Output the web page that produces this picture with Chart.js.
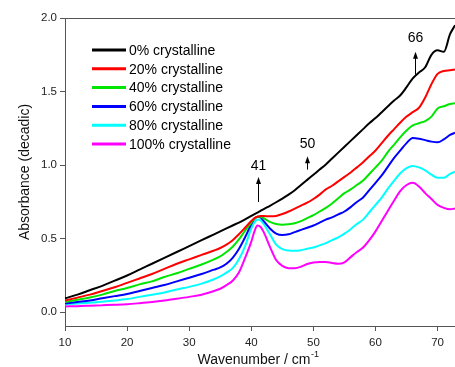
<!DOCTYPE html>
<html lang="en">
<head>
    <meta charset="UTF-8">
    <title>Absorbance vs Wavenumber</title>
    <script src="https://cdn.jsdelivr.net/npm/chart.js"></script>
    <style>
        body { margin: 0; background: #fff; }
        canvas { display: block; }
    </style>
</head>
<body>
    <canvas id="spectra" width="455" height="367"></canvas>
    <script>
        // wavenumber grid (cm-1)
        const wavenumber = [10,12,14,16,18,20,22,24,26,28,30,32,34,35,36,37,38,39,40,40.5,41,41.5,
            42,43,44,45,46,47,48,49,50,51,52,53,54,55,56,57,58,59,60,61,62,63,64,65,66,67,68,69,70,71,72,72.8];

        const labels = ['0% crystalline', '20% crystalline', '40% crystalline', '60% crystalline', '80% crystalline', '100% crystalline'];
        const colors = ['#000000', '#ff0000', '#00e600', '#0000ff', '#00ffff', '#ff00ff'];

        const abs0 = [0.095,0.12,0.15,0.18,0.215,0.25,0.29,0.33,0.37,0.41,0.45,0.49,0.53,
            0.55,0.57,0.59,0.61,0.632,0.655, 0.667,0.678,0.69,
            0.702,0.724,0.748,0.773,0.80,0.83,0.865,0.90,0.935,0.97,1.005,1.045,1.085,1.125,1.165,1.205,1.245,1.285,1.32,1.36,1.40,1.44,1.475,1.53,1.59,1.63,1.665,1.75,1.78,1.77,1.89, 1.95];
        const abs20 = [0.08,0.10,0.12,0.145,0.17,0.20,0.23,0.26,0.295,0.33,0.36,0.39,0.42,
            0.437,0.46,0.49,0.53,0.575,0.62, 0.64,0.65,0.655,
            0.655,0.652,0.655,0.668,0.685,0.705,0.725,0.745,0.77,0.80,0.835,0.86,0.89,0.92,0.95,0.985,1.02,1.06,1.10,1.15,1.20,1.245,1.29,1.33,1.36,1.39,1.46,1.55,1.62,1.64,1.645, 1.65];
        const abs40 = [0.07,0.085,0.10,0.12,0.145,0.165,0.19,0.21,0.24,0.265,0.295,0.325,0.36,
            0.38,0.41,0.445,0.495,0.555,0.61, 0.635,0.65,0.65,
            0.64,0.615,0.60,0.595,0.598,0.605,0.62,0.64,0.66,0.685,0.71,0.74,0.775,0.81,0.835,0.865,0.895,0.94,0.985,1.03,1.09,1.14,1.19,1.235,1.27,1.285,1.30,1.33,1.385,1.40,1.415, 1.42];
        const abs60 = [0.06,0.07,0.08,0.095,0.11,0.125,0.145,0.165,0.185,0.21,0.235,0.26,0.29,
            0.305,0.33,0.37,0.43,0.51,0.60, 0.635,0.65,0.645,
            0.62,0.57,0.535,0.525,0.53,0.545,0.56,0.575,0.59,0.61,0.63,0.645,0.665,0.685,0.715,0.75,0.78,0.83,0.88,0.93,0.99,1.05,1.10,1.15,1.185,1.18,1.17,1.16,1.155,1.175,1.205, 1.22];
        const abs80 = [0.055,0.06,0.065,0.072,0.08,0.09,0.105,0.12,0.135,0.155,0.173,0.195,0.225,
            0.245,0.27,0.30,0.36,0.45,0.57, 0.61,0.63,0.625,
            0.60,0.53,0.46,0.43,0.42,0.418,0.422,0.432,0.44,0.455,0.47,0.49,0.51,0.535,0.565,0.60,0.63,0.68,0.73,0.78,0.84,0.895,0.945,0.98,0.995,0.985,0.965,0.935,0.915,0.915,0.94, 0.955];
        const abs100 = [0.04,0.042,0.045,0.048,0.051,0.055,0.062,0.07,0.08,0.092,0.105,0.12,0.145,
            0.16,0.185,0.215,0.27,0.37,0.48, 0.55,0.59,0.58,
            0.545,0.445,0.355,0.315,0.30,0.30,0.31,0.328,0.338,0.342,0.342,0.335,0.33,0.34,0.375,0.41,0.44,0.49,0.55,0.62,0.69,0.76,0.825,0.865,0.88,0.855,0.81,0.77,0.73,0.71,0.70, 0.705];

        const series = [abs0, abs20, abs40, abs60, abs80, abs100];

        const xTicks = [10, 20, 30, 40, 50, 60, 70];
        const yTicks = [0, 0.5, 1.0, 1.5, 2.0];

        // peak markers (arrows with wavenumber label)
        const peakLabels = ['41', '50', '66'];
        const peakX = [41.1, 49.0, 66.3];
        const arrowFrom = [0.75, 0.97, 1.615];
        const arrowTo = [0.92, 1.06, 1.77];
        const labelY = [0.99, 1.145, 1.86];

        const FONT = '"Liberation Sans", Arial, Helvetica, sans-serif';
        Chart.defaults.font.family = FONT;

        const extras = {
            id: 'extras',
            afterDraw(chart) {
                const ctx = chart.ctx;
                const area = chart.chartArea;
                const xs = chart.scales.x, ys = chart.scales.y;
                ctx.save();

                // top frame line
                ctx.strokeStyle = '#555';
                ctx.lineWidth = 1;
                ctx.beginPath();
                ctx.moveTo(area.left, area.top + 0.5);
                ctx.lineTo(area.right, area.top + 0.5);
                ctx.stroke();

                // legend
                ctx.font = '14px ' + FONT;
                ctx.textBaseline = 'middle';
                ctx.textAlign = 'left';
                chart.data.datasets.forEach((ds, i) => {
                    const y = 50 + i * 18.8;
                    ctx.strokeStyle = ds.borderColor;
                    ctx.lineWidth = 3;
                    ctx.beginPath();
                    ctx.moveTo(92, y);
                    ctx.lineTo(126, y);
                    ctx.stroke();
                    ctx.fillStyle = '#000';
                    ctx.fillText(ds.label, 129, y + 1);
                });

                // peak arrows
                ctx.strokeStyle = '#000';
                ctx.fillStyle = '#000';
                ctx.lineWidth = 1;
                ctx.textAlign = 'center';
                peakLabels.forEach((t, i) => {
                    const px = Math.round(xs.getPixelForValue(peakX[i])) + 0.5;
                    const y1 = ys.getPixelForValue(arrowFrom[i]);
                    const y2 = ys.getPixelForValue(arrowTo[i]);
                    ctx.beginPath();
                    ctx.moveTo(px, y1);
                    ctx.lineTo(px, y2 + 5);
                    ctx.stroke();
                    ctx.beginPath();
                    ctx.moveTo(px, y2);
                    ctx.lineTo(px - 2.5, y2 + 7);
                    ctx.lineTo(px + 2.5, y2 + 7);
                    ctx.closePath();
                    ctx.fill();
                    ctx.fillText(t, px, ys.getPixelForValue(labelY[i]));
                });

                // axis titles
                ctx.fillStyle = '#111';
                const main = 'Wavenumber / cm';
                ctx.font = '14px ' + FONT;
                const w1 = ctx.measureText(main).width;
                ctx.font = '9px ' + FONT;
                const w2 = ctx.measureText('-1').width;
                const startX = 258 - (w1 + w2) / 2;
                ctx.textAlign = 'left';
                ctx.textBaseline = 'alphabetic';
                ctx.font = '14px ' + FONT;
                ctx.fillText(main, startX, 364);
                ctx.font = '9px ' + FONT;
                ctx.fillText('-1', startX + w1 + 0.5, 357);

                ctx.translate(25, (area.top + area.bottom) / 2);
                ctx.rotate(-Math.PI / 2);
                ctx.font = '14px ' + FONT;
                ctx.textAlign = 'center';
                ctx.textBaseline = 'middle';
                ctx.fillText('Absorbance (decadic)', 0, 0);
                ctx.restore();
            }
        };

        const ctx = document.getElementById('spectra').getContext('2d');
        new Chart(ctx, {
            type: 'line',
            data: {
                datasets: series.map((vals, i) => ({
                    label: labels[i],
                    data: vals.map((v, k) => ({ x: wavenumber[k], y: v })),
                    borderColor: colors[i],
                    backgroundColor: colors[i],
                    borderWidth: 2,
                    pointRadius: 0,
                    fill: false,
                    cubicInterpolationMode: 'monotone'
                }))
            },
            options: {
                responsive: false,
                animation: false,
                layout: { padding: { top: 18, right: 0, left: 0, bottom: 0 } },
                plugins: {
                    legend: { display: false },
                    tooltip: { enabled: false }
                },
                scales: {
                    x: {
                        type: 'linear',
                        min: 10,
                        max: 72.8,
                        afterBuildTicks: s => { s.ticks = xTicks.map(v => ({ value: v })); },
                        afterFit: s => { s.height = 41; },
                        ticks: {
                            color: '#222',
                            font: { size: 11.5 },
                            padding: 5,
                            maxRotation: 0,
                            callback: v => String(v)
                        },
                        grid: { drawOnChartArea: false, drawTicks: true, tickLength: 5, color: '#555' },
                        border: { color: '#555', width: 1 }
                    },
                    y: {
                        min: -0.093,
                        max: 2.0,
                        afterBuildTicks: s => { s.ticks = yTicks.map(v => ({ value: v })); },
                        afterFit: s => { s.width = 65; },
                        ticks: {
                            color: '#222',
                            font: { size: 11.5 },
                            padding: 3,
                            callback: v => v.toFixed(1)
                        },
                        grid: { drawOnChartArea: false, drawTicks: true, tickLength: 5, color: '#555' },
                        border: { color: '#555', width: 1 }
                    }
                }
            },
            plugins: [extras]
        });
    </script>
</body>
</html>
